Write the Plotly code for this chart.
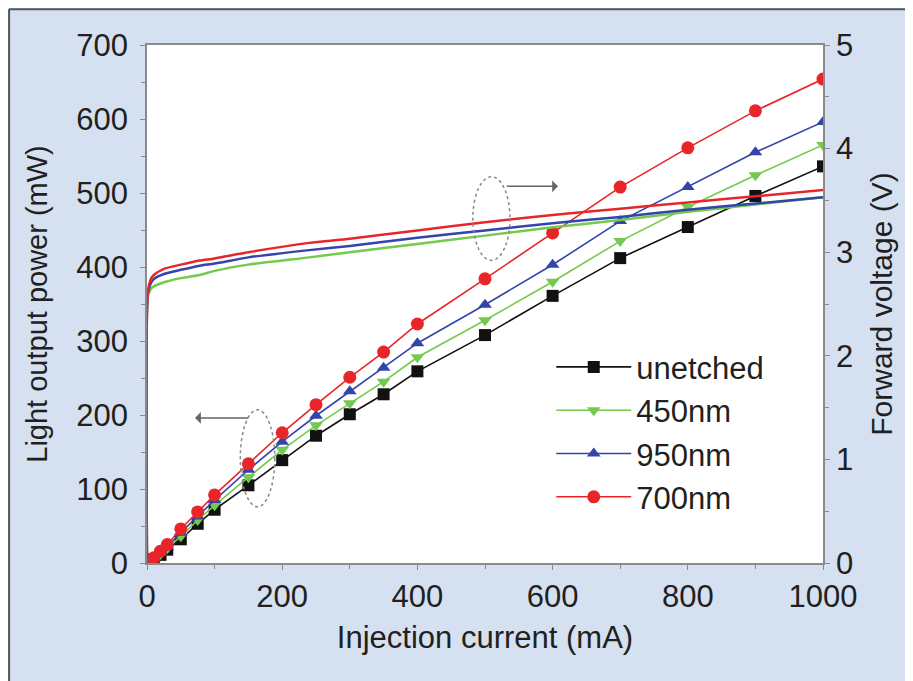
import plotly.graph_objects as go

# Light output power data (mW) vs injection current (mA)
current_p = [0, 10, 20, 30, 50, 75, 100, 150, 200, 250, 300, 350, 400, 500, 600, 700, 800, 900, 1000]
p_unetched = [0, 5, 11, 18, 32, 53, 72, 105, 139, 172, 201, 228, 259, 308, 361, 412, 454, 496, 536]
p_450 = [0, 5, 12, 20, 36, 58, 78, 116, 153, 186, 216, 245, 278, 328, 380, 435, 481, 524, 565]
p_950 = [0, 6, 14, 22, 41, 63, 85, 126, 164, 199, 232, 264, 297, 349, 403, 462, 508, 555, 596]
p_700 = [0, 7, 16, 25, 46, 69, 92, 134, 176, 214, 251, 285, 323, 384, 446, 508, 561, 611, 654]

# Forward voltage data (V) vs injection current (mA)
current_v = [0, 1, 5, 10, 25, 50, 78, 100, 150, 240, 300, 400, 500, 600, 700, 800, 900, 1000]
v_700 = [0, 2.60, 2.73, 2.78, 2.84, 2.88, 2.92, 2.94, 3.00, 3.09, 3.13, 3.21, 3.29, 3.36, 3.42, 3.48, 3.54, 3.60]
v_950 = [0, 2.58, 2.69, 2.74, 2.79, 2.83, 2.87, 2.89, 2.95, 3.02, 3.06, 3.14, 3.21, 3.28, 3.34, 3.41, 3.47, 3.53]
v_450 = [0, 2.56, 2.64, 2.67, 2.71, 2.75, 2.78, 2.82, 2.88, 2.95, 3.00, 3.08, 3.16, 3.24, 3.31, 3.39, 3.46, 3.53]

series_names = ["unetched", "450nm", "950nm", "700nm"]

BLACK = "#111111"
GREEN = "#74c94e"
BLUE = "#3344aa"
RED = "#e8262a"
TXT = "#231f20"
FONT = "Liberation Sans, Arial, sans-serif"
FS = 31

fig = go.Figure()

# Voltage curves (right axis)
for vals, col in [(v_450, GREEN), (v_950, BLUE), (v_700, RED)]:
    fig.add_trace(go.Scatter(x=current_v, y=vals, mode="lines", yaxis="y2",
                             line=dict(color=col, width=2.5, shape="spline", smoothing=0.6),
                             showlegend=False, hoverinfo="skip"))

# Power curves (left axis)
power = [(p_unetched, BLACK, "square"), (p_450, GREEN, "triangle-down"),
         (p_950, BLUE, "triangle-up"), (p_700, RED, "circle")]
for name, (vals, col, sym) in zip(series_names, power):
    fig.add_trace(go.Scatter(x=current_p, y=vals, mode="lines+markers", name=name,
                             line=dict(color=col, width=1.6),
                             marker=dict(symbol=sym, size=12 if sym != "circle" else 13, color=col)))

axis_common = dict(showline=True, linecolor="#8a8a8a", linewidth=1.5, ticks="outside",
                   tickcolor="#8a8a8a", ticklen=5, showgrid=False, zeroline=False,
                   tickfont=dict(size=FS, color=TXT, family=FONT))

fig.update_layout(
    width=905, height=673,
    margin=dict(l=139, r=90, t=37, b=118),
    paper_bgcolor="#d5e1f1",
    plot_bgcolor="white",
    font=dict(family=FONT, color=TXT),
    xaxis=dict(range=[0, 1000], dtick=200, mirror=True,
               minor=dict(ticks="outside", dtick=100, ticklen=4, tickcolor="#8a8a8a"),
               title=dict(text="Injection current (mA)", font=dict(size=FS, color=TXT), standoff=13),
               **axis_common),
    yaxis=dict(range=[0, 700], dtick=100, ticklabelstandoff=6,
               minor=dict(ticks="outside", dtick=50, ticklen=4, tickcolor="#8a8a8a"),
               title=dict(text="Light output power (mW)", font=dict(size=29, color=TXT), standoff=20),
               **axis_common),
    yaxis2=dict(range=[0, 5], dtick=1, overlaying="y", side="right",
                minor=dict(ticks="outside", dtick=0.5, ticklen=4, tickcolor="#8a8a8a"),
                title=dict(text="Forward voltage (V)", font=dict(size=30, color=TXT), standoff=19),
                **axis_common),
    legend=dict(x=0.598, y=0.43, xanchor="left", yanchor="top", bgcolor="rgba(0,0,0,0)",
                font=dict(size=FS, color=TXT, family=FONT), itemwidth=75,
                tracegroupgap=0),
    showlegend=True,
)

# dashed ellipses
fig.add_shape(type="circle", xref="x", yref="y", x0=138, x1=189, y0=76, y1=207,
              line=dict(color="#888888", width=1.5, dash="dot"))
fig.add_shape(type="circle", xref="x", yref="y", x0=482, x1=537, y0=409, y1=522,
              line=dict(color="#888888", width=1.5, dash="dot"))

# arrows
fig.add_annotation(x=71, y=196, ax=152, ay=196, xref="x", yref="y", axref="x", ayref="y",
                   text="", showarrow=True, arrowhead=1, arrowsize=1.3, arrowwidth=1.5,
                   arrowcolor="#666666")
fig.add_annotation(x=608, y=509, ax=530, ay=509, xref="x", yref="y", axref="x", ayref="y",
                   text="", showarrow=True, arrowhead=1, arrowsize=1.3, arrowwidth=1.5,
                   arrowcolor="#666666")

# outer frame lines (top and left)
fig.add_shape(type="line", xref="paper", yref="paper", x0=-0.204, x1=1.14, y0=1.069, y1=1.069,
              line=dict(color="#555555", width=2))
fig.add_shape(type="line", xref="paper", yref="paper", x0=-0.204, x1=-0.204, y0=1.069, y1=-0.24,
              line=dict(color="#555555", width=2))

fig.write_html("out.html")
